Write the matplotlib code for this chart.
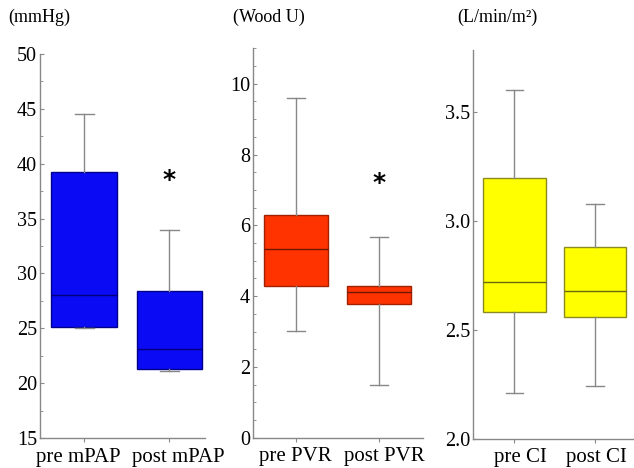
import matplotlib
matplotlib.use('Agg')
import matplotlib.pyplot as plt
import matplotlib.transforms as mtransforms
import numpy as np

plt.rcParams['font.family'] = ['Liberation Serif', 'DejaVu Serif']

# box stats: whisker low, q1, median, q3, whisker high
labels_pap = ['pre mPAP', 'post mPAP']
pap_lo = [25.0, 21.1]
pap_q1 = [25.1, 21.3]
pap_med = [28.0, 23.1]
pap_q3 = [39.2, 28.4]
pap_hi = [44.5, 34.0]

labels_pvr = ['pre PVR', 'post PVR']
pvr_lo = [3.02, 1.48]
pvr_q1 = [4.29, 3.79]
pvr_med = [5.32, 4.12]
pvr_q3 = [6.30, 4.29]
pvr_hi = [9.59, 5.67]

labels_ci = ['pre CI', 'post CI']
ci_lo = [2.21, 2.24]
ci_q1 = [2.58, 2.56]
ci_med = [2.72, 2.68]
ci_q3 = [3.20, 2.88]
ci_hi = [3.60, 3.08]

units = ['(mmHg)', '(Wood U)', '(L/min/m\u00b2)']


def make_stats(labels, lo, q1, med, q3, hi):
    stats = []
    for i in range(len(labels)):
        stats.append({'label': labels[i], 'whislo': lo[i], 'q1': q1[i], 'med': med[i],
                      'q3': q3[i], 'whishi': hi[i], 'fliers': []})
    return stats


fig = plt.figure(figsize=(6.34, 4.68), dpi=100)

panels = [
    dict(rect=[0.0631, 0.0641, 0.2603, 0.8205], stats=make_stats(labels_pap, pap_lo, pap_q1, pap_med, pap_q3, pap_hi),
         face='#0a0af5', edge='#00008a', med='#00007a', ylim=(15, 50), major=5, minor=2.5,
         xlim=(0.48, 2.42), fmt='%d', star=38.5, shift=(-6, 9)),
    dict(rect=[0.3986, 0.0647, 0.2686, 0.8321], stats=make_stats(labels_pvr, pvr_lo, pvr_q1, pvr_med, pvr_q3, pvr_hi),
         face='#ff3300', edge='#a02000', med='#701500', ylim=(0, 11), major=2, minor=0.5,
         xlim=(0.48, 2.53), fmt='%d', star=7.2, shift=(-1, 5)),
    dict(rect=[0.7465, 0.0626, 0.2535, 0.8306], stats=make_stats(labels_ci, ci_lo, ci_q1, ci_med, ci_q3, ci_hi),
         face='#ffff00', edge='#8a8a20', med='#6a6a10', ylim=(2.0, 3.786), major=0.5, minor=None,
         xlim=(0.49, 2.48), fmt='%.1f', star=None, shift=(6, 1)),
]

for p, unit, ux in zip(panels, units, [0.013, 0.367, 0.722]):
    ax = fig.add_axes(p['rect'])
    ax.bxp(p['stats'], positions=[1, 2], widths=0.77, patch_artist=True, showfliers=False,
           boxprops=dict(facecolor=p['face'], edgecolor=p['edge'], linewidth=1.0),
           medianprops=dict(color=p['med'], linewidth=1.0),
           whiskerprops=dict(color='#888888', linewidth=1.0),
           capprops=dict(color='#888888', linewidth=1.0),
           capwidths=0.22)
    ax.set_xlim(*p['xlim'])
    ax.set_ylim(*p['ylim'])
    ax.set_yticks(np.arange(p['ylim'][0], p['ylim'][1] + 1e-6, p['major']))
    ax.yaxis.set_major_formatter(matplotlib.ticker.FormatStrFormatter(p['fmt']))
    if p['minor']:
        ax.yaxis.set_minor_locator(matplotlib.ticker.MultipleLocator(p['minor']))
    for s in ['top', 'right']:
        ax.spines[s].set_visible(False)
    for s in ['left', 'bottom']:
        ax.spines[s].set_color('#888888')
        ax.spines[s].set_linewidth(1.0)
    ax.tick_params(axis='y', direction='in', length=3, color='#888888', labelsize=14.5, pad=2)
    ax.tick_params(axis='y', which='minor', direction='in', length=2, color='#888888')
    ax.tick_params(axis='x', direction='out', length=3, color='#888888', labelsize=15, pad=4)
    for lab, dx in zip(ax.get_xticklabels(), p['shift']):
        lab.set_transform(lab.get_transform() + mtransforms.ScaledTranslation(dx / 100, 0, fig.dpi_scale_trans))
    if p['star'] is not None:
        ax.text(2, p['star'], '*', ha='center', va='center', fontsize=18, fontweight='bold',
                family='DejaVu Sans')
    fig.text(ux, 0.962, unit, ha='left', va='center', fontsize=13)

fig.savefig('out.png', dpi=100)
